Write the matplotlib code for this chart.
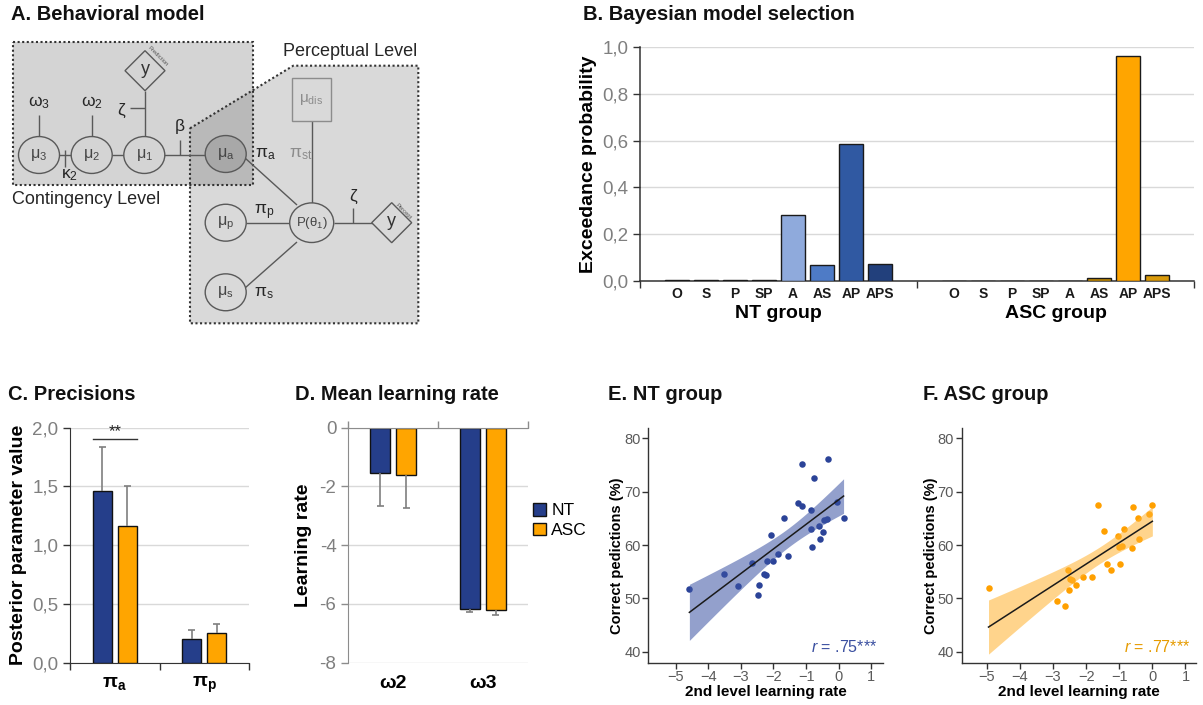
import numpy as np
import matplotlib
matplotlib.use('Agg')
import matplotlib.pyplot as plt
from matplotlib.patches import Ellipse, Polygon, Rectangle
from matplotlib.ticker import FixedLocator, NullFormatter

plt.rcParams['font.family'] = ['Liberation Sans', 'DejaVu Sans']
plt.rcParams['mathtext.fontset'] = 'custom'
plt.rcParams['mathtext.rm'] = 'Liberation Sans'
plt.rcParams['mathtext.it'] = 'Liberation Sans:italic'
plt.rcParams['mathtext.bf'] = 'Liberation Sans:bold'

# ------------------------- data -------------------------
models = ['O', 'S', 'P', 'SP', 'A', 'AS', 'AP', 'APS']
groups_B = ['NT group', 'ASC group']
exc_nt = [0.003, 0.003, 0.003, 0.003, 0.28, 0.07, 0.585, 0.072]
exc_asc = [0.002, 0.002, 0.002, 0.002, 0.002, 0.012, 0.963, 0.025]
b_yticks = [0.0, 0.2, 0.4, 0.6, 0.8, 1.0]
b_yticklabels = ['0,0', '0,2', '0,4', '0,6', '0,8', '1,0']

prec_params = ['π$_\\mathbf{a}$', 'π$_\\mathbf{p}$']
prec_nt = [1.46, 0.20]
prec_nt_err = [0.38, 0.08]
prec_asc = [1.16, 0.25]
prec_asc_err = [0.34, 0.08]
c_yticks = [0.0, 0.5, 1.0, 1.5, 2.0]
c_yticklabels = ['0,0', '0,5', '1,0', '1,5', '2,0']
sig_label = '**'
sig_y = 1.90

lr_params = ['ω2', 'ω3']
lr_nt = [-1.53, -6.18]
lr_nt_err = [1.12, 0.10]
lr_asc = [-1.61, -6.20]
lr_asc_err = [1.11, 0.16]
d_yticks = [0, -2, -4, -6, -8]
legend_labels = ['NT', 'ASC']

nt_x = [-4.58, -3.51, -3.10, -2.67, -2.43, -2.48, -2.28, -2.22, -2.19, -2.08,
        -2.02, -1.87, -1.67, -1.55, -1.25, -1.12, -1.12, -0.85, -0.86, -0.81,
        -0.76, -0.61, -0.58, -0.48, -0.46, -0.34, -0.35, -0.05, 0.15]
nt_y = [51.7, 54.6, 52.4, 56.6, 52.6, 50.6, 54.6, 54.3, 57.1, 61.9,
        57.0, 58.3, 65.1, 57.9, 67.9, 75.2, 67.25, 66.6, 63.1, 59.6,
        72.5, 63.6, 61.1, 62.4, 64.75, 76.2, 64.9, 68.0, 65.0]
asc_x = [-4.95, -2.87, -2.64, -2.54, -2.50, -2.43, -2.52, -2.32, -2.09, -1.82,
         -1.65, -1.46, -1.37, -1.24, -1.03, -1.00, -0.98, -0.91, -0.85, -0.61,
         -0.58, -0.44, -0.39, -0.11, 0.00]
asc_y = [51.9, 49.5, 48.6, 55.4, 53.6, 53.4, 51.6, 52.6, 54.1, 54.1,
         67.5, 62.6, 56.5, 55.3, 61.75, 59.7, 56.5, 59.9, 63.1, 59.4,
         67.1, 65.1, 61.2, 65.9, 67.5]
r_nt = '$r$ = .75***'
r_asc = '$r$ = .77***'
scatter_xticks = [-5, -4, -3, -2, -1, 0, 1]
scatter_yticks = [40, 50, 60, 70, 80]

# ------------------------- styling -------------------------
NAVY = '#253E8A'
ORANGE = '#FFA500'
GRID = '#D9D9D9'
TICKGRAY = '#7F7F7F'
W, H = 1203, 705

fig = plt.figure(figsize=(W / 100, H / 100), dpi=100)


def prect(l, t, r, b):
    return [l / W, 1 - b / H, (r - l) / W, (b - t) / H]


def ftext(x, y, s, **kw):
    fig.text(x / W, 1 - y / H, s, **kw)


TITLE = dict(fontsize=14.5, fontweight='bold', va='center', ha='left', color='#111111')
ftext(11, 15, 'A. Behavioral model', **TITLE)
ftext(583, 15, 'B. Bayesian model selection', **TITLE)
ftext(8, 395, 'C. Precisions', **TITLE)
ftext(295, 395, 'D. Mean learning rate', **TITLE)
ftext(608, 395, 'E. NT group', **TITLE)
ftext(923, 395, 'F. ASC group', **TITLE)

# ------------------------- panel A (diagram) -------------------------
axA = fig.add_axes(prect(0, 0, 430, 330))
axA.set_xlim(0, 430)
axA.set_ylim(330, 0)
axA.axis('off')

BG1, BG2, BG3 = '#D4D4D4', '#D9D9D9', '#B9B9B9'
LC = '#595959'
cont_xy = (12.7, 41.7, 253, 185)
perc_pts = [(190, 128.3), (293.3, 65.7), (418.3, 65.7), (418.3, 323.3), (190, 323.3)]
axA.add_patch(Rectangle((cont_xy[0], cont_xy[1]), cont_xy[2] - cont_xy[0], cont_xy[3] - cont_xy[1],
                        fc=BG1, ec='none', zorder=1))
axA.add_patch(Polygon(perc_pts, closed=True, fc=BG2, ec='none', zorder=1))
axA.add_patch(Polygon([(190, 128.3), (253, 90.1), (253, 185), (190, 185)], closed=True,
                      fc=BG3, ec='none', zorder=2))
dot = dict(fill=False, ec='#333333', lw=1.5, ls=(0, (1, 1.2)), zorder=3)
axA.add_patch(Rectangle((cont_xy[0], cont_xy[1]), cont_xy[2] - cont_xy[0], cont_xy[3] - cont_xy[1], **dot))
axA.add_patch(Polygon(perc_pts, closed=True, **dot))

segs = [((59, 155), (71.7, 155)), ((65, 150), (65, 167)),
        ((111.7, 155), (124.3, 155)), ((164.3, 155), (205.7, 155)),
        ((180, 140), (180, 155)), ((39, 115), (39, 137)), ((91.7, 115), (91.7, 137)),
        ((145, 90.7), (145, 137)), ((130, 108.3), (145, 108.3)),
        ((245, 158), (297, 205)), ((311.7, 120.7), (311.7, 203.7)),
        ((245.7, 222.7), (289.7, 222.7)), ((245, 288), (297, 242)),
        ((333.7, 222.7), (372.7, 222.7)), ((353.3, 208.3), (353.3, 222.7))]
for (x0, y0), (x1, y1) in segs:
    axA.plot([x0, x1], [y0, y1], color=LC, lw=1.0, zorder=4, solid_capstyle='butt')

nodes = [((39, 155), 'μ$_3$', BG1, 41), ((91.7, 155), 'μ$_2$', BG1, 41), ((144.3, 155), 'μ$_1$', BG1, 41),
         ((225.7, 154), 'μ$_\\mathrm{a}$', '#A8A8A8', 41), ((225.7, 222.7), 'μ$_\\mathrm{p}$', BG2, 41),
         ((311.7, 222.7), 'P(θ$_1$)', BG2, 44), ((225.7, 292.3), 'μ$_\\mathrm{s}$', BG2, 41)]
for (cx, cy), lab, fc, w in nodes:
    axA.add_patch(Ellipse((cx, cy), w, w * 0.9, fc=fc, ec=LC, lw=1.0, zorder=5))
    axA.text(cx, cy, lab, ha='center', va='center', fontsize=9.5 if 'P' in lab else 11.5,
             color='#454545', zorder=6)

axA.add_patch(Rectangle((291.7, 78.3), 39.3, 42.4, fc=BG2, ec='#8C8C8C', lw=1.0, zorder=5))
axA.text(311.3, 99.5, 'μ$_\\mathrm{dis}$', ha='center', va='center', fontsize=11, color='#8C8C8C', zorder=6)

for cx, cy, fc in [(145, 70.7, BG1), (391.7, 222.7, BG2)]:
    h = 20
    axA.add_patch(Polygon([(cx, cy - h), (cx + h, cy), (cx, cy + h), (cx - h, cy)], closed=True,
                          fc=fc, ec=LC, lw=1.0, zorder=5))
    axA.text(cx, cy - 1, 'y', ha='center', va='center', fontsize=13, color='#333333', zorder=6)
axA.text(158, 56, 'Prediction', rotation=-45, ha='center', va='center', fontsize=4.2, color='#555555', zorder=6)
axA.text(403, 211, 'Percept', rotation=-45, ha='center', va='center', fontsize=4.2, color='#555555', zorder=6)

greek = [((39, 103), 'ω$_3$', '#262626'), ((91.7, 103), 'ω$_2$', '#262626'),
         ((121, 110), 'ζ', '#262626'), ((180, 126), 'β', '#262626'), ((69, 175), 'κ$_2$', '#262626'),
         ((265, 154), 'π$_\\mathrm{a}$', '#262626'), ((301, 154), 'π$_\\mathrm{st}$', '#8C8C8C'),
         ((264, 211.7), 'π$_\\mathrm{p}$', '#262626'), ((264, 293.3), 'π$_\\mathrm{s}$', '#262626'),
         ((353.3, 196), 'ζ', '#262626')]
for (x, y), lab, col in greek:
    axA.text(x, y, lab, ha='center', va='center', fontsize=12.5, color=col, zorder=6)

axA.text(283, 51.7, 'Perceptual Level', ha='left', va='center', fontsize=13, color='#262626')
axA.text(11.7, 200, 'Contingency Level', ha='left', va='center', fontsize=13, color='#262626')

# ------------------------- panel B -------------------------
axB = fig.add_axes(prect(640, 47, 1194, 281))
pad = 1.28
n = len(models)
pos_nt = np.arange(n)
pos_asc = np.arange(n) + (n - 1) + 2 * pad
col_nt = ['#1F3864'] * 4 + ['#8FAADC', '#4E7BC6', '#3059A2', '#22407C']
col_asc = ['#8A6A10'] * 5 + ['#C48A00', ORANGE, '#D99A0A']
axB.bar(pos_nt, exc_nt, width=0.8, color=col_nt, edgecolor='#1A1A1A', lw=1.0, zorder=3)
axB.bar(pos_asc, exc_asc, width=0.8, color=col_asc, edgecolor='#1A1A1A', lw=1.0, zorder=3)
left_b, mid_b, right_b = -pad, (n - 1) + pad, 2 * (n - 1) + 3 * pad
axB.set_xlim(left_b, right_b)
axB.set_ylim(0, 1.0)
axB.set_yticks(b_yticks)
axB.set_yticklabels(b_yticklabels)
axB.set_xticks(np.concatenate([pos_nt, pos_asc]))
axB.set_xticklabels(models + models, fontsize=10, fontweight='bold',
                    family=['Liberation Sans Narrow', 'Liberation Sans'])
axB.xaxis.set_minor_locator(FixedLocator([left_b, mid_b, right_b]))
axB.tick_params(axis='x', which='major', length=0, pad=4, colors='#1A1A1A')
axB.tick_params(axis='x', which='minor', length=5, width=1, direction='out', color='#333333')
axB.tick_params(axis='y', length=5, width=1, labelsize=13.5, labelcolor=TICKGRAY, color='#333333')
axB.grid(axis='y', color=GRID, lw=1, zorder=0)
for s in ['top', 'right']:
    axB.spines[s].set_visible(False)
axB.spines['left'].set_color('#333333')
axB.spines['bottom'].set_color('#333333')
axB.spines['left'].set_linewidth(1.1)
axB.spines['bottom'].set_linewidth(1.1)
axB.set_ylabel('Exceedance probability', fontsize=14, fontweight='bold')
axB.yaxis.set_label_coords(-0.078, 0.5)
for gname, gpos in zip(groups_B, [pos_nt, pos_asc]):
    axB.text(gpos.mean(), -0.137, gname, transform=axB.get_xaxis_transform(),
             ha='center', va='center', fontsize=14, fontweight='bold')


def err_whiskers(ax, x, y, e, sign, cw=0.04):
    x = np.asarray(x, float)
    y = np.asarray(y, float)
    ends = y + sign * np.asarray(e, float)
    ax.vlines(x, y, ends, color='#7F7F7F', lw=1.2, zorder=4)
    ax.hlines(ends, x - cw, x + cw, color='#7F7F7F', lw=1.2, zorder=4)


# ------------------------- panel C -------------------------
axC = fig.add_axes(prect(70, 427.7, 249, 662.7))
xc = np.arange(len(prec_params))
off, bw = 0.14, 0.215
axC.bar(xc - off, prec_nt, bw, color=NAVY, edgecolor='#111111', lw=1, zorder=3)
axC.bar(xc + off, prec_asc, bw, color=ORANGE, edgecolor='#111111', lw=1, zorder=3)
err_whiskers(axC, xc - off, prec_nt, prec_nt_err, +1)
err_whiskers(axC, xc + off, prec_asc, prec_asc_err, +1)
axC.plot([xc[0] - off - bw / 2, xc[0] + off + bw / 2], [sig_y, sig_y], color='#333333', lw=1, zorder=4)
axC.text(xc[0], sig_y + 0.005, sig_label, ha='center', va='bottom', fontsize=12, color='#222222')
axC.set_xlim(-0.5, len(prec_params) - 0.5)
axC.set_ylim(0, 2.0)
axC.set_yticks(c_yticks)
axC.set_yticklabels(c_yticklabels)
axC.set_xticks(xc)
axC.set_xticklabels(prec_params, fontsize=14, fontweight='bold')
axC.xaxis.set_minor_locator(FixedLocator([-0.5, 0.5, 1.5]))
axC.tick_params(axis='x', which='major', length=0, pad=9)
axC.tick_params(axis='x', which='minor', length=5, width=1, color='#333333')
axC.tick_params(axis='y', length=5, width=1, labelsize=13.5, labelcolor=TICKGRAY, color='#333333')
axC.grid(axis='y', color=GRID, lw=1, zorder=0)
for s in ['top', 'right']:
    axC.spines[s].set_visible(False)
axC.spines['left'].set_color('#333333')
axC.spines['bottom'].set_color('#333333')
axC.set_ylabel('Posterior parameter value', fontsize=14, fontweight='bold')
axC.yaxis.set_label_coords(-0.24, 0.5)

# ------------------------- panel D -------------------------
axD = fig.add_axes(prect(348.3, 427.7, 527.7, 662.7))
xd = np.arange(len(lr_params))
offd, bwd = 0.145, 0.22
axD.bar(xd - offd, lr_nt, bwd, color=NAVY, edgecolor='#111111', lw=1, zorder=3, label=legend_labels[0])
axD.bar(xd + offd, lr_asc, bwd, color=ORANGE, edgecolor='#111111', lw=1, zorder=3, label=legend_labels[1])
err_whiskers(axD, xd - offd, lr_nt, lr_nt_err, -1)
err_whiskers(axD, xd + offd, lr_asc, lr_asc_err, -1)
axD.set_xlim(-0.5, len(lr_params) - 0.5)
axD.set_ylim(-8, 0)
axD.set_yticks(d_yticks)
axD.set_yticklabels([str(v) for v in d_yticks])
axD.set_xticks(xd)
axD.set_xticklabels(lr_params, fontsize=14, fontweight='bold')
axD.xaxis.set_minor_locator(FixedLocator([-0.5, 0.5, 1.5]))
axD.xaxis.set_minor_formatter(NullFormatter())
axD.tick_params(axis='x', which='major', length=0, pad=9, bottom=True, top=False)
axD.tick_params(axis='x', which='minor', length=5, width=1, color='#8C8C8C', bottom=False, top=True)
axD.tick_params(axis='y', length=5, width=1, labelsize=13.5, labelcolor=TICKGRAY, color='#8C8C8C')
axD.grid(axis='y', color=GRID, lw=1, zorder=0)
axD.spines['right'].set_visible(False)
axD.spines['bottom'].set_visible(False)
axD.spines['left'].set_color('#8C8C8C')
axD.spines['top'].set_color('#8C8C8C')
axD.spines['top'].set_zorder(5)
axD.set_ylabel('Learning rate', fontsize=14, fontweight='bold')
axD.yaxis.set_label_coords(-0.202, 0.5)
axD.legend(loc='center left', bbox_to_anchor=(1.03, 0.605), frameon=False, fontsize=12.5,
           handlelength=0.75, handleheight=0.75, handletextpad=0.3, labelspacing=0.25,
           borderaxespad=0, borderpad=0)


# ------------------------- panels E, F -------------------------
def fit_band(x, y, tcrit=2.05):
    x = np.asarray(x, float)
    y = np.asarray(y, float)
    k = len(x)
    b, a = np.polyfit(x, y, 1)
    xs = np.linspace(x.min(), x.max(), 100)
    yh = a + b * xs
    res = y - (a + b * x)
    s = np.sqrt(np.sum(res ** 2) / (k - 2))
    se = s * np.sqrt(1 / k + (xs - x.mean()) ** 2 / np.sum((x - x.mean()) ** 2))
    return xs, yh, yh - tcrit * se, yh + tcrit * se


def scatter_panel(rect, x, y, pcol, bandcol, rtext, rcol, xlim, ylab_x):
    ax = fig.add_axes(rect)
    xs, yh, lo, hi = fit_band(x, y)
    ax.scatter(x, y, s=22, color=pcol, zorder=2, linewidths=0)
    ax.fill_between(xs, lo, hi, color=bandcol, alpha=0.55, lw=0, zorder=3)
    ax.plot(xs, yh, color='#1A1A1A', lw=1.1, zorder=4)
    ax.set_xlim(*xlim)
    ax.set_ylim(37.94, 82.0)
    ax.set_xticks(scatter_xticks)
    ax.set_yticks(scatter_yticks)
    for s in ['top', 'right']:
        ax.spines[s].set_visible(False)
    for s in ['left', 'bottom']:
        ax.spines[s].set_color('#333333')
        ax.spines[s].set_linewidth(1.0)
    ax.tick_params(length=4, width=1, color='#333333', labelsize=10.5, labelcolor='#5A5A5A', pad=1.5)
    ax.set_xlabel('2nd level learning rate', fontsize=11, fontweight='bold')
    ax.set_ylabel('Correct pedictions (%)', fontsize=10.5, fontweight='bold')
    ax.xaxis.set_label_coords(0.5, -0.095)
    ax.yaxis.set_label_coords(ylab_x, 0.455)
    ax.text(0.975, 0.067, rtext, transform=ax.transAxes, ha='right', va='center',
            fontsize=11.5, color=rcol)
    return ax


axE = scatter_panel(prect(648.3, 427.7, 882.7, 662.7), nt_x, nt_y, '#2B4398', '#3A52A3',
                    r_nt, '#3A4FA0', (-5.84, 1.35), -0.105)
axF = scatter_panel(prect(961.7, 427.7, 1195.7, 662.7), asc_x, asc_y, '#FFA000', '#FFB22E',
                    r_asc, '#E69B00', (-5.76, 1.31), -0.10)

fig.savefig('out.png', dpi=100)
